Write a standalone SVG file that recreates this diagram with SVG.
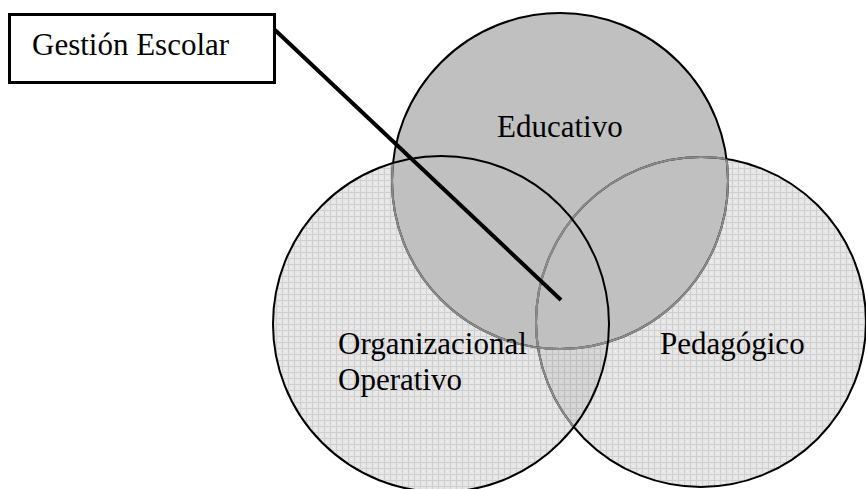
<svg xmlns="http://www.w3.org/2000/svg" width="866" height="489" viewBox="0 0 866 489">
<style>
.t{font-family:"Liberation Serif","Times New Roman",serif;font-size:31px;fill:#000}
.o{fill:none;stroke:#000;stroke-width:2}
.g{fill:none;stroke:#8a8a8a;stroke-width:2}
</style>
<defs>
<pattern id="grid" width="6" height="6" patternUnits="userSpaceOnUse">
<rect width="6" height="6" fill="#e6e6e6"/>
<path d="M0 0.5H6M0.5 0V6" stroke="#cfcfcf" stroke-width="1"/>
<rect x="3" y="3" width="1" height="1" fill="#f4f4f4"/>
</pattern>
<clipPath id="cL"><circle cx="441" cy="324" r="168"/></clipPath>
<clipPath id="cR"><circle cx="701" cy="322" r="165"/></clipPath>
<clipPath id="cE"><circle cx="560" cy="181" r="168"/></clipPath>
</defs>
<rect width="866" height="489" fill="#fff"/>
<g id="pedagogico">
<circle cx="701" cy="322" r="165" fill="url(#grid)"/>
</g>
<g id="organizacional">
<circle cx="441" cy="324" r="168" fill="url(#grid)"/>
<circle cx="441" cy="324" r="168" fill="#000" fill-opacity="0.07" clip-path="url(#cR)"/>
</g>
<g id="educativo">
<circle cx="560" cy="181" r="168" fill="#c0c0c0"/>
</g>
<g id="outlines">
<circle cx="701" cy="322" r="165" class="o"/>
<g clip-path="url(#cL)"><circle cx="701" cy="322" r="165" class="g"/></g>
<g clip-path="url(#cE)"><circle cx="701" cy="322" r="165" class="g"/></g>
<circle cx="560" cy="181" r="168" class="o"/>
<g clip-path="url(#cL)"><circle cx="560" cy="181" r="168" class="g"/></g>
<g clip-path="url(#cR)"><circle cx="560" cy="181" r="168" class="g"/></g>
<circle cx="441" cy="324" r="168" class="o"/>
</g>
<g id="labels">
<text class="t" x="497" y="137">Educativo</text>
<text class="t" x="338" y="354">Organizacional</text>
<text class="t" x="338" y="390">Operativo</text>
<text class="t" x="660" y="354">Pedagógico</text>
</g>
<g id="gestion">
<rect x="9.5" y="14.5" width="265" height="68" fill="#fff" stroke="#000" stroke-width="3"/>
<text class="t" x="32" y="55">Gestión Escolar</text>
</g>
<g id="connectors">
<line x1="275" y1="30" x2="561" y2="300" stroke="#000" stroke-width="4"/>
</g>
</svg>
